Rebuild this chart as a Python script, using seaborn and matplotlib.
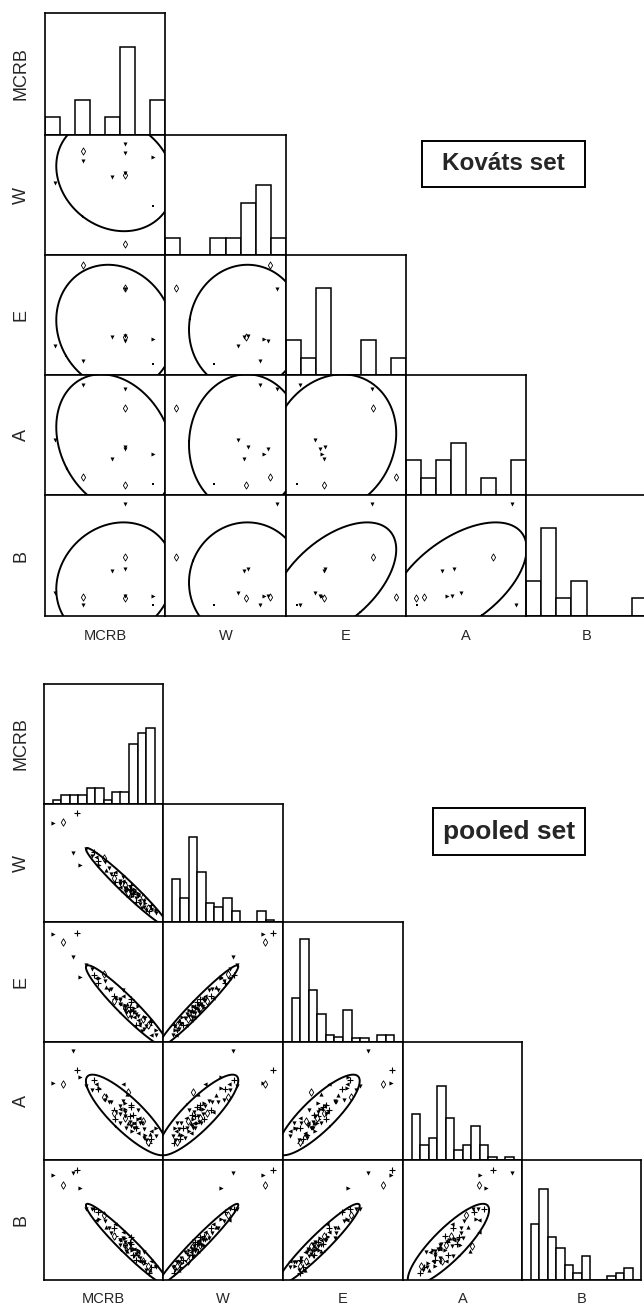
import numpy as np
import pandas as pd
import matplotlib
matplotlib.use('Agg')
import matplotlib.pyplot as plt
from matplotlib.patches import Rectangle
import seaborn as sns

# Variable names (row / column order of both matrices)
variables = ["MCRB", "W", "E", "A", "B"]

# Kovats set: 11 compounds, values scaled to the panel range (0-1)
kov_mcrb = [.667, .317, .667, .90, .317, .083, .558, .667, .667, .90, .667]
kov_w = [.925, .867, .85, .817, .783, .60, .65, .683, .667, .408, .092]
kov_e = [.72, .917, .283, .30, .117, .24, .317, .325, .32, .092, .725]
kov_a = [.883, .15, .383, .342, .917, .458, .30, .40, .083, .092, .725]
kov_b = [.925, .158, .167, .167, .092, .19, .37, .39, .15, .092, .49]
kov_mark = ["v", "d", "v", ">", "v", "v", "v", "v", "d", ".", "d"]

# Pooled set: 60 compounds of the main cloud + 5 outlying ones (scaled 0-1)
pool_mcrb = [.94, .88, .94, .86, .90, .87, .82, .89, .84, .90,
             .81, .85, .77, .84, .80, .77,
             .83, .74, .79, .71, .79, .75, .73, .79, .71, .76, .68, .76, .72, .69, .73, .76, .68, .70,
             .72, .64, .68, .73, .64, .68, .64, .68, .60, .64, .66,
             .59, .66, .59, .56, .60,
             .52, .55, .46,
             .51, .45, .50, .44, .40,
             .42, .35,
             .076, .16, .277, .244, .303]
pool_w = [.08, .09, .10, .10, .11, .12, .12, .13, .13, .14,
          .15, .16, .17, .18, .19, .20,
          .21, .22, .22, .23, .23, .24, .24, .25, .25, .25, .26, .26, .27, .27, .28, .28, .29, .29,
          .30, .30, .31, .31, .32, .33, .33, .34, .34, .35, .35,
          .37, .38, .40, .41, .42,
          .44, .46, .48,
          .51, .52, .54, .55, .56,
          .59, .62,
          .836, .85, .92, .585, .483]
pool_e = [.06, .14, .10, .13, .06, .14, .09, .18, .11, .17,
          .15, .21, .14, .20, .14, .23,
          .19, .27, .22, .26, .18, .26, .21, .30, .23, .25, .29, .21, .29, .24, .33, .28, .27, .32,
          .25, .32, .28, .36, .32, .31, .36, .29, .36, .35, .38,
          .34, .43, .38, .44, .37,
          .46, .43, .53,
          .51, .49, .57, .53, .61,
          .56, .64,
          .90, .83, .91, .71, .54]
pool_a = [.20, .14, .27, .17, .25, .15, .31, .22, .26, .18,
          .31, .21, .27, .19, .36, .27,
          .33, .25, .42, .31, .23, .38, .29, .35, .58, .27, .41, .31, .37, .27, .45, .31, .37, .56,
          .32, .43, .36, .47, .31, .43, .39, .48, .35, .46, .64,
          .40, .50, .42, .49, .41,
          .55, .49, .61,
          .51, .60, .53, .64, .59,
          .68, .63,
          .65, .64, .76, .92, .70]
pool_b = [.11, .06, .12, .08, .16, .12, .15, .08, .15, .11,
          .18, .14, .17, .23, .16, .22,
          .16, .25, .20, .28, .23, .21, .26, .25, .28, .20, .28, .26, .32, .24, .30, .26, .32, .24,
          .30, .33, .29, .36, .29, .35, .33, .29, .37, .33, .40,
          .37, .35, .43, .39, .47,
          .44, .43, .51,
          .49, .57, .54, .50, .59,
          .59, .59,
          .875, .79, .92, .89, .77]
pool_core = [1] * 60 + [0] * 5
pool_mark = list("v+>v<dv^v+" "v>+v<vd>v^" "<+v>dvv<+v" "+>v^v<d+v>"
                 "v>+v<dv+v<" "^v>v+d<v+v" ">d+v>")

# Pooled histograms: bar heights (14 bins over the panel range)
pool_hist_mcrb = [0, 3.7, 9, 9, 9, 16.3, 16.3, 3.7, 11.7, 11.7, 59.7, 71.3, 76.3, 0]
pool_hist_w = [0, 43.3, 24, 86.3, 50.7, 19, 15, 24, 11.3, 0, 0, 11.3, 2.3, 0]
pool_hist_e = [0, 44, 103.3, 52.3, 28.3, 7.3, 4.7, 31.7, 4, 4, 0, 7.3, 7.3, 0]
pool_hist_a = [0, 46.3, 15.3, 22.7, 75, 43, 10.3, 15.3, 34.3, 15.3, 3, 0, 3, 0]
pool_hist_b = [0, 55.7, 91, 42.7, 31.7, 15, 7.3, 24, 0, 0, 4.3, 7.3, 12.3, 0]

kov = pd.DataFrame({"MCRB": kov_mcrb, "W": kov_w, "E": kov_e, "A": kov_a,
                    "B": kov_b, "mk": kov_mark})
pool = pd.DataFrame({"MCRB": pool_mcrb, "W": pool_w, "E": pool_e, "A": pool_a,
                     "B": pool_b, "core": pool_core, "mk": pool_mark})
pool_hists = dict(zip(variables, [pool_hist_mcrb, pool_hist_w, pool_hist_e,
                                  pool_hist_a, pool_hist_b]))

sns.set_style("white")
plt.rcParams["font.family"] = ["Liberation Sans", "DejaVu Sans"]

W_PX, H_PX = 644, 1307
fig = plt.figure(figsize=(W_PX / 100, H_PX / 100), dpi=100)


def px_axes(x0, y0, x1, y1):
    ax = fig.add_axes([x0 / W_PX, 1 - y1 / H_PX, (x1 - x0) / W_PX, (y1 - y0) / H_PX])
    for sp in ax.spines.values():
        sp.set_color("black")
        sp.set_linewidth(1.2)
    return ax


def draw_ellipse(ax, x, y, k):
    xy = np.vstack([x, y])
    mean = xy.mean(axis=1)
    vals, vecs = np.linalg.eigh(np.cov(xy))
    t = np.linspace(0, 2 * np.pi, 300)
    circ = np.vstack([np.cos(t), np.sin(t)])
    pts = vecs @ (np.sqrt(vals)[:, None] * circ) * k + mean[:, None]
    ax.plot(pts[0], pts[1], color="black", lw=1.4)


def draw_points(ax, df, xv, yv, scale=1.0):
    for mk, sub in df.groupby("mk"):
        if mk == "d":
            sns.scatterplot(data=sub, x=xv, y=yv, ax=ax, marker="d", s=11 * scale,
                            facecolor="white", edgecolor="black", linewidth=0.6)
        elif mk == "+":
            sns.scatterplot(data=sub, x=xv, y=yv, ax=ax, marker="+", s=10 * scale,
                            color="black", linewidth=0.8)
        elif mk == ".":
            sns.scatterplot(data=sub, x=xv, y=yv, ax=ax, marker="s", s=3 * scale,
                            color="black", linewidth=0)
        else:
            sns.scatterplot(data=sub, x=xv, y=yv, ax=ax, marker=mk, s=7 * scale,
                            color="black", linewidth=0)


def draw_matrix(df, cols, rows, nbins, k, hist_heights=None, hist_top=6.9,
                lab_row_x=21, lab_col_dy=20, mscale=1.0):
    n = len(variables)
    for i in range(n):
        for j in range(i + 1):
            ax = px_axes(cols[j], rows[i], cols[j + 1], rows[i + 1])
            if i == j:
                if hist_heights is None:
                    sns.histplot(data=df, x=variables[i], bins=nbins, binrange=(0, 1), ax=ax,
                                 color="white", edgecolor="black", linewidth=1.1, alpha=1)
                else:
                    edges = np.linspace(0, 1, nbins + 1)
                    hdf = pd.DataFrame({"c": (edges[:-1] + edges[1:]) / 2,
                                        "h": hist_heights[variables[i]]})
                    sns.histplot(data=hdf, x="c", weights="h", bins=nbins, binrange=(0, 1),
                                 ax=ax, color="white", edgecolor="black", linewidth=1.1,
                                 alpha=1)
                ax.set_ylim(0, hist_top)
            else:
                xv, yv = variables[j], variables[i]
                core = df[df["core"] == 1] if "core" in df else df
                draw_ellipse(ax, core[xv].values, core[yv].values, k)
                draw_points(ax, df, xv, yv, mscale)
                ax.set_ylim(0, 1)
            ax.set_xlim(0, 1)
            ax.set_xlabel("")
            ax.set_ylabel("")
            ax.set_xticks([])
            ax.set_yticks([])
    for i, name in enumerate(variables):
        yc = (rows[i] + rows[i + 1]) / 2
        fig.text(lab_row_x / W_PX, 1 - yc / H_PX, name, rotation=90, ha="center",
                 va="center", fontsize=13)
        xc = (cols[i] + cols[i + 1]) / 2
        fig.text(xc / W_PX, 1 - (rows[-1] + lab_col_dy) / H_PX, name, ha="center",
                 va="center", fontsize=10.5)


def label_box(x0, y0, x1, y1, text, size):
    fig.patches.append(Rectangle((x0 / W_PX, 1 - y1 / H_PX), (x1 - x0) / W_PX,
                                 (y1 - y0) / H_PX, transform=fig.transFigure,
                                 facecolor="white", edgecolor="black", lw=1.4))
    fig.text((x0 + x1) / 2 / W_PX, 1 - (y0 + y1) / 2 / H_PX, text, ha="center",
             va="center", fontsize=size, fontweight="bold")


# Kovats set (top)
draw_matrix(kov, cols=[45, 165, 286, 406, 526, 647], rows=[13, 135, 255, 375, 495, 616],
            nbins=8, k=1.95, hist_top=6.9, mscale=1.2)
label_box(422, 141, 585, 187, "Kováts set", 17.5)

# pooled set (bottom)
draw_matrix(pool, cols=[44, 163, 283, 403, 522, 641], rows=[684, 804, 922, 1042, 1160, 1280],
            nbins=14, k=2.45, hist_heights=pool_hists, hist_top=120, lab_col_dy=19,
            mscale=1.3)
label_box(433, 808, 585, 855, "pooled set", 19)

fig.savefig("out.png", dpi=100)
plt.close(fig)
